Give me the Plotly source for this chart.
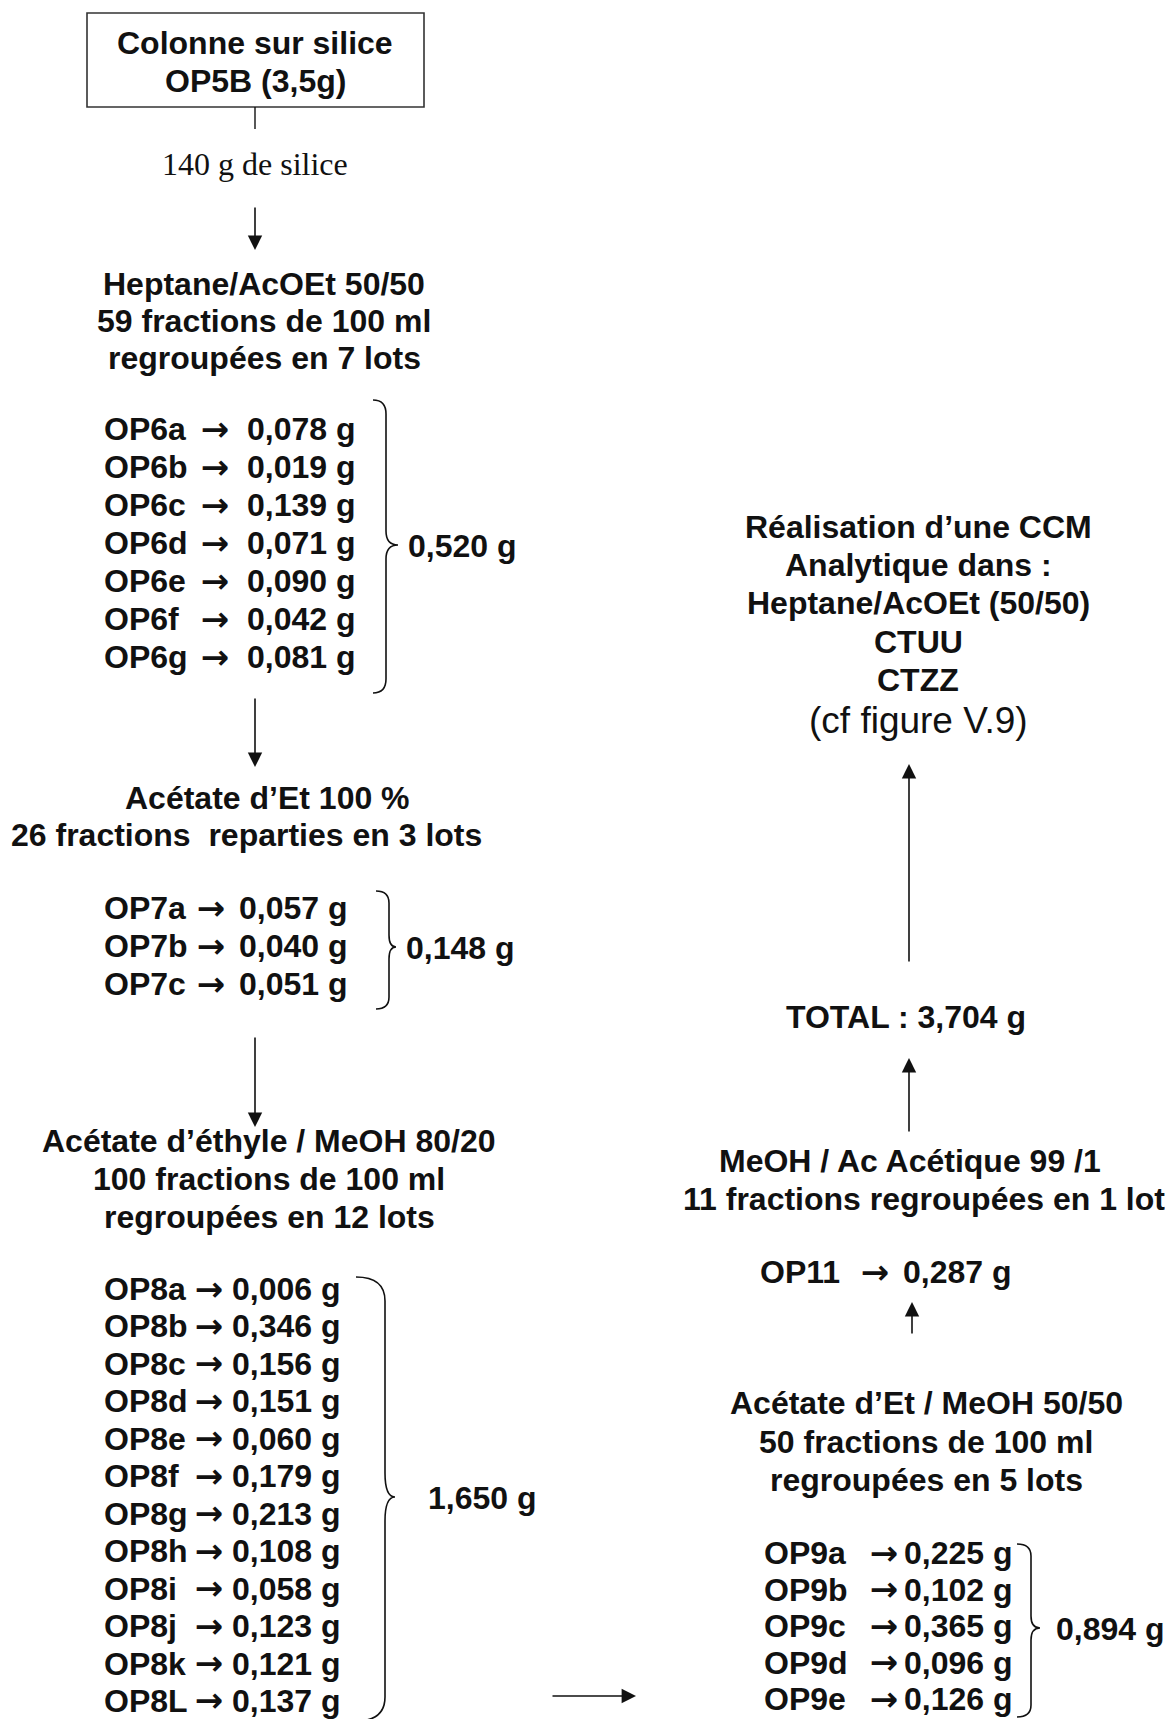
"""Schéma de fractionnement de OP5B sur colonne de silice."""
import plotly.graph_objects as go

W, H = 1173, 1719
PAD = 8  # marge par défaut du <body> de la page
INK = "#111111"
BOLD = "Liberation Sans, Arial, sans-serif"
REG = "Arial, Liberation Sans, sans-serif"
FS = 32
DY = 1  # recalage vertical des textes

# --- données : lots et masses (g) ---
op6_noms = ["OP6a", "OP6b", "OP6c", "OP6d", "OP6e", "OP6f", "OP6g"]
op6_masses = [0.078, 0.019, 0.139, 0.071, 0.090, 0.042, 0.081]
op6_total = 0.520

op7_noms = ["OP7a", "OP7b", "OP7c"]
op7_masses = [0.057, 0.040, 0.051]
op7_total = 0.148

op8_noms = ["OP8a", "OP8b", "OP8c", "OP8d", "OP8e", "OP8f",
            "OP8g", "OP8h", "OP8i", "OP8j", "OP8k", "OP8L"]
op8_masses = [0.006, 0.346, 0.156, 0.151, 0.060, 0.179,
              0.213, 0.108, 0.058, 0.123, 0.121, 0.137]
op8_total = 1.650

op9_noms = ["OP9a", "OP9b", "OP9c", "OP9d", "OP9e"]
op9_masses = [0.225, 0.102, 0.365, 0.096, 0.126]
op9_total = 0.894

op11_nom = "OP11"
op11_masse = 0.287
total_general = 3.704

# textes des étapes
txt_colonne = ["Colonne sur silice", "OP5B (3,5g)"]
txt_silice = "140 g de silice"
txt_elu1 = ["Heptane/AcOEt 50/50", "59 fractions de 100 ml", "regroupées en 7 lots"]
txt_elu2 = ["Acétate d’Et 100 %", "26 fractions  reparties en 3 lots"]
txt_elu3 = ["Acétate d’éthyle / MeOH 80/20", "100 fractions de 100 ml", "regroupées en 12 lots"]
txt_elu4 = ["Acétate d’Et / MeOH 50/50", "50 fractions de 100 ml", "regroupées en 5 lots"]
txt_elu5 = ["MeOH / Ac Acétique 99 /1", "11 fractions regroupées en 1 lot"]
txt_ccm = ["Réalisation d’une CCM", "Analytique dans :", "Heptane/AcOEt (50/50)", "CTUU", "CTZZ"]
txt_cf = "(cf figure V.9)"


def g(v, sep=" "):
    return f"{v:.3f}".replace(".", ",") + sep + "g"


fig = go.Figure()


def lignes(lines, x, y0, step=37.5, size=FS, family=BOLD, gras=True):
    xs = x if isinstance(x, list) else [x] * len(lines)
    for i, t in enumerate(lines):
        fig.add_annotation(x=xs[i], y=y0 + DY + i * step, text=f"<b>{t}</b>" if gras else t,
                           showarrow=False, xanchor="center", yanchor="middle",
                           font=dict(family=family, size=size, color=INK))


def liste(noms, masses, x_nom, x_fl, x_m, y0, step):
    ys = [y0 + DY + i * step for i in range(len(noms))]
    font = dict(family=BOLD, size=FS, color=INK)
    fig.add_trace(go.Scatter(x=[x_nom] * len(noms), y=ys, text=[f"<b>{n}</b>" for n in noms],
                             mode="text", textposition="middle right", textfont=font,
                             hoverinfo="skip"))
    fig.add_trace(go.Scatter(x=[x_fl] * len(noms), y=ys, text=["<b>→</b>"] * len(noms),
                             mode="text", textposition="middle center",
                             textfont=dict(family="DejaVu Sans", size=34, color=INK),
                             hoverinfo="skip"))
    fig.add_trace(go.Scatter(x=[x_m] * len(noms), y=ys, text=[f"<b>{g(m)}</b>" for m in masses],
                             mode="text", textposition="middle right", textfont=font,
                             hoverinfo="skip"))


def accolade(x0, xm, xt, y0, y1, ym, r=14):
    p = (f"M {x0},{y0} Q {xm},{y0} {xm},{y0 + r} L {xm},{ym - r} "
         f"Q {xm},{ym} {xt},{ym} Q {xm},{ym} {xm},{ym + r} "
         f"L {xm},{y1 - r} Q {xm},{y1} {x0},{y1}")
    fig.add_shape(type="path", path=p, line=dict(color=INK, width=1.6))


def fleche(x, y, ax, ay):
    fig.add_annotation(x=x, y=y, ax=ax, ay=ay, xref="x", yref="y", axref="x", ayref="y",
                       text="", showarrow=True, arrowhead=2, arrowsize=1.8,
                       arrowwidth=1.6, arrowcolor=INK, standoff=0)


def total(v, x, y):
    fig.add_annotation(x=x, y=y + DY, text=f"<b>{g(v)}</b>", showarrow=False,
                       xanchor="left", yanchor="middle",
                       font=dict(family=BOLD, size=FS, color=INK))


# --- colonne gauche ---
fig.add_shape(type="rect", x0=87, y0=13, x1=424, y1=107, line=dict(color="#333333", width=1.6))
lignes(txt_colonne, 255, 42, step=38)
fig.add_shape(type="line", x0=255, y0=107, x1=255, y1=129, line=dict(color=INK, width=1.4))
lignes([txt_silice], 255, 163, size=32, family="Liberation Serif, Times New Roman, serif",
       gras=False)
fleche(255, 250, 255, 206)

lignes(txt_elu1, 264, 283, step=37)
liste(op6_noms, op6_masses, 104, 215, 247, 431, 38)
accolade(373, 386, 398, 400, 693, 545)
total(op6_total, 406, 545)
fleche(255, 767, 255, 697)

lignes(txt_elu2, [267, 246], 797, step=37)
liste(op7_noms, op7_masses, 104, 211, 239, 910, 38)
accolade(376, 389, 396, 891, 1009, 947, r=12)
total(op7_total, 404, 947)
fleche(255, 1127, 255, 1036)

lignes(txt_elu3, 269, 1140, step=38)
liste(op8_noms, op8_masses, 104, 209, 232, 1291, 37.45)
accolade(356, 385, 395, 1277, 1721, 1497, r=24)
total(op8_total, 426, 1497)
fleche(636, 1696, 551, 1696)

# --- colonne droite ---
lignes(txt_ccm, 918, 526, step=38.2)
lignes([txt_cf], 918, 719, size=37, family=REG, gras=False)
fleche(909, 764, 909, 963)

lignes(["TOTAL : " + g(total_general)], 906, 1016)
fleche(909, 1058, 909, 1133)

lignes(txt_elu5, [910, 924], 1160, step=38)
liste([op11_nom], [op11_masse], 760, 875, 903, 1274, 0)
fleche(912, 1302, 912, 1335)

lignes(txt_elu4, 926, 1402, step=38.5)
liste(op9_noms, op9_masses, 764, 884, 904, 1555, 36.6)
accolade(1017, 1031, 1040, 1544, 1717, 1628, r=12)
total(op9_total, 1054, 1628)

fig.update_layout(
    width=W - PAD, height=H - PAD, margin=dict(l=0, r=0, t=0, b=0),
    paper_bgcolor="white", plot_bgcolor="white", showlegend=False,
    xaxis=dict(range=[PAD, W], visible=False, fixedrange=True),
    yaxis=dict(range=[H, PAD], visible=False, fixedrange=True),
)

fig.write_html("out.html", config={"displayModeBar": False})
